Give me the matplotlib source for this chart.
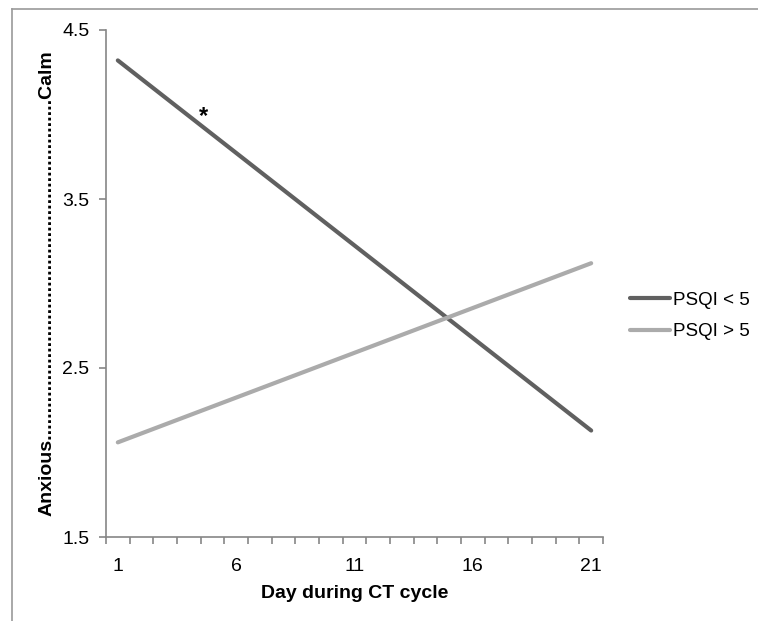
import numpy as np
import matplotlib
matplotlib.use('Agg')
import matplotlib.pyplot as plt
from matplotlib.lines import Line2D

plt.rcParams['font.family'] = ['Liberation Sans', 'DejaVu Sans']

# data
days = [1, 21]
psqi_low = [4.32, 2.13]    # PSQI < 5
psqi_high = [2.06, 3.12]   # PSQI > 5
labels = ['PSQI < 5', 'PSQI > 5']
xticks = [1, 6, 11, 16, 21]
yticks = [1.5, 2.5, 3.5, 4.5]

W, H = 758, 621
fig = plt.figure(figsize=(W / 100, H / 100), dpi=100)
ax = fig.add_axes([106 / W, 1 - 537 / H, 497 / W, 507 / H])

ax.plot(days, psqi_low, color='#606060', lw=3.0, solid_capstyle='round', label=labels[0])
ax.plot(days, psqi_high, color='#ababab', lw=3.0, solid_capstyle='round', label=labels[1])

ax.text(4.6, 3.99, '*', fontsize=17, fontweight='bold', ha='center', va='center')

ax.set_xlim(0.5, 21.5)
ax.set_ylim(1.5, 4.5)
ax.set_xticks(xticks)
ax.set_xticks(np.arange(0.5, 22, 1), minor=True)
ax.set_yticks(yticks)
ax.set_yticklabels(['%.1f' % v for v in yticks])

gray = '#868686'
for s in ['top', 'right']:
    ax.spines[s].set_visible(False)
for s in ['left', 'bottom']:
    ax.spines[s].set_color(gray)
    ax.spines[s].set_linewidth(1.2)

ax.tick_params(axis='x', which='major', length=0, pad=15, labelsize=14)
ax.tick_params(axis='x', which='minor', length=5, color=gray, width=1.2)
ax.tick_params(axis='y', length=5, color=gray, width=1.2, labelsize=14, pad=7)

ax.set_xlabel('Day during CT cycle', fontsize=14, fontweight='bold', labelpad=7)
ax.set_ylabel('Anxious' + '.' * 62 + 'Calm', fontsize=14, fontweight='bold', labelpad=5)

leg = fig.legend(loc='center left', bbox_to_anchor=(630 / W, 1 - 316 / H), frameon=False,
                 fontsize=13.5, handlelength=2.13, handletextpad=0.16, labelspacing=0.78,
                 borderpad=0, borderaxespad=0)

# outer frame (left and top only)
fig.add_artist(Line2D([12 / W, 12 / W], [0, 1 - 9 / H], color='#9a9a9a', lw=1.2,
                      transform=fig.transFigure))
fig.add_artist(Line2D([12 / W, 1], [1 - 9 / H, 1 - 9 / H], color='#9a9a9a', lw=1.2,
                      transform=fig.transFigure))

fig.savefig('out.png', dpi=100)
